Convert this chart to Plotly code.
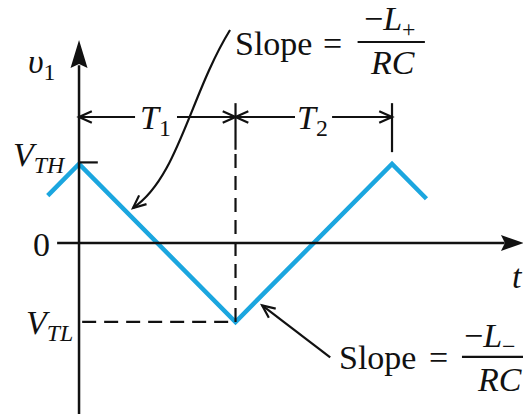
import math
import plotly.graph_objects as go

# triangle waveform, t in units of T1 (= T2), v in units of V_TH (= -V_TL)
t_wave = [-0.2, 0.0, 1.0, 2.0, 2.22]
v_wave = [0.6, 1.0, -1.0, 1.0, 0.56]

V_TH = 1.0
V_TL = -1.0
T1_END = 1.0
T2_END = 2.0

BLUE = '#1ba6df'
INK = '#111111'
FONT = 'Liberation Serif'
DASH = '14px,8px'

X_RANGE = [-0.505, 2.837]
Y_RANGE = [-2.165, 3.076]


def line(x0, y0, x1, y1, width=2.2, dash='solid'):
    return dict(type='line', x0=x0, y0=y0, x1=x1, y1=y1, xref='x', yref='y',
                line=dict(color=INK, width=width, dash=dash))


def head(x, y, path, filled=False, width=2.2):
    # path in pixels relative to (x, y)
    return dict(type='path', xref='x', yref='y', xsizemode='pixel', ysizemode='pixel',
                xanchor=x, yanchor=y, path=path,
                fillcolor=INK if filled else 'rgba(0,0,0,0)',
                line=dict(color=INK, width=0 if filled else width))


def barb(x, y, angle, length=14, spread=24):
    # open arrowhead pointing along angle (degrees, y up)
    pts = []
    for s in (spread, -spread):
        a = math.radians(angle + 180 + s)
        pts.append((length * math.cos(a), length * math.sin(a)))
    p = f'M {pts[0][0]:.1f},{pts[0][1]:.1f} L 0,0 L {pts[1][0]:.1f},{pts[1][1]:.1f}'
    return head(x, y, p)


def label(x, y, text, size=34, xanchor='center'):
    return dict(x=x, y=y, xref='x', yref='y', text=text, showarrow=False,
                xanchor=xanchor, yanchor='middle',
                font=dict(family=FONT, size=size, color=INK))


fig = go.Figure()
fig.add_trace(go.Scatter(x=t_wave, y=v_wave, mode='lines',
                         line=dict(color=BLUE, width=4.5), hoverinfo='skip'))

shapes = [
    # axes
    line(0, Y_RANGE[0], 0, 2.25, width=2.5),
    head(0, 2.57, 'M 0,0 L -8.5,-28 L 0,-24 L 8.5,-28 Z', filled=True),
    line(-0.14, 0, 2.72, 0, width=2.5),
    head(2.843, 0, 'M 0,0 L -23,8 L -19,0 L -23,-8 Z', filled=True),
    # V_TH tick and V_TL dashed guide
    line(0, V_TH + 0.02, 0.12, V_TH + 0.02),
    line(0.02, V_TL, T1_END, V_TL, dash=DASH),
    # vertical guides
    line(T1_END, V_TL, T1_END, 1.18, dash=DASH),
    line(T1_END, 1.18, T1_END, 1.77),
    line(T2_END, 1.15, T2_END, 1.77),
    # T1 / T2 dimension lines
    line(0, 1.595, 0.358, 1.595),
    line(0.626, 1.595, T1_END, 1.595),
    line(T1_END, 1.595, 1.38, 1.595),
    line(1.617, 1.595, T2_END, 1.595),
    barb(0, 1.595, 180), barb(T1_END, 1.595, 0),
    barb(T1_END, 1.595, 180), barb(T2_END, 1.595, 0),
    # curved pointer to falling slope
    dict(type='path', xref='x', yref='y',
         path='M 0.965,2.696 C 0.709,1.873 0.633,0.823 0.345,0.443',
         line=dict(color=INK, width=2.2)),
    barb(0.345, 0.443, -140),
    # pointer to rising slope
    line(1.605, -1.447, 1.17, -0.79),
    barb(1.17, -0.79, 142.6),
    # fraction bars
    line(1.78, 2.544, 2.21, 2.544),
    line(2.447, -1.443, 2.9, -1.443),
]

annotations = [
    label(-0.237, 2.266, '<i>υ</i><sub>1</sub>'),
    label(-0.25, 1.09, '<i>V<sub>TH</sub></i>'),
    label(-0.24, -0.02, '0'),
    label(-0.19, -1.04, '<i>V<sub>TL</sub></i>'),
    label(0.486, 1.56, '<i>T</i><sub>1</sub>'),
    label(1.495, 1.56, '<i>T</i><sub>2</sub>'),
    label(2.805, -0.43, '<i>t</i>'),
    label(1.243, 2.53, 'Slope'),
    label(1.617, 2.53, '='),
    label(1.987, 2.81, '−<i>L</i><sub>+</sub>'),
    label(2.0, 2.29, '<i>RC</i>'),
    label(1.907, -1.456, 'Slope'),
    label(2.294, -1.456, '='),
    label(2.447, -1.20, '−<i>L</i><sub>−</sub>', xanchor='left'),
    label(2.53, -1.73, '<i>RC</i>', xanchor='left'),
]

fig.update_layout(
    width=523, height=414,
    margin=dict(l=0, r=0, t=0, b=0),
    paper_bgcolor='white', plot_bgcolor='white',
    showlegend=False,
    xaxis=dict(visible=False, range=X_RANGE, fixedrange=True),
    yaxis=dict(visible=False, range=Y_RANGE, fixedrange=True),
    shapes=shapes,
    annotations=annotations,
)

fig.write_html("out.html", config=dict(displayModeBar=False),
               post_script="document.body.style.margin = '0';")
